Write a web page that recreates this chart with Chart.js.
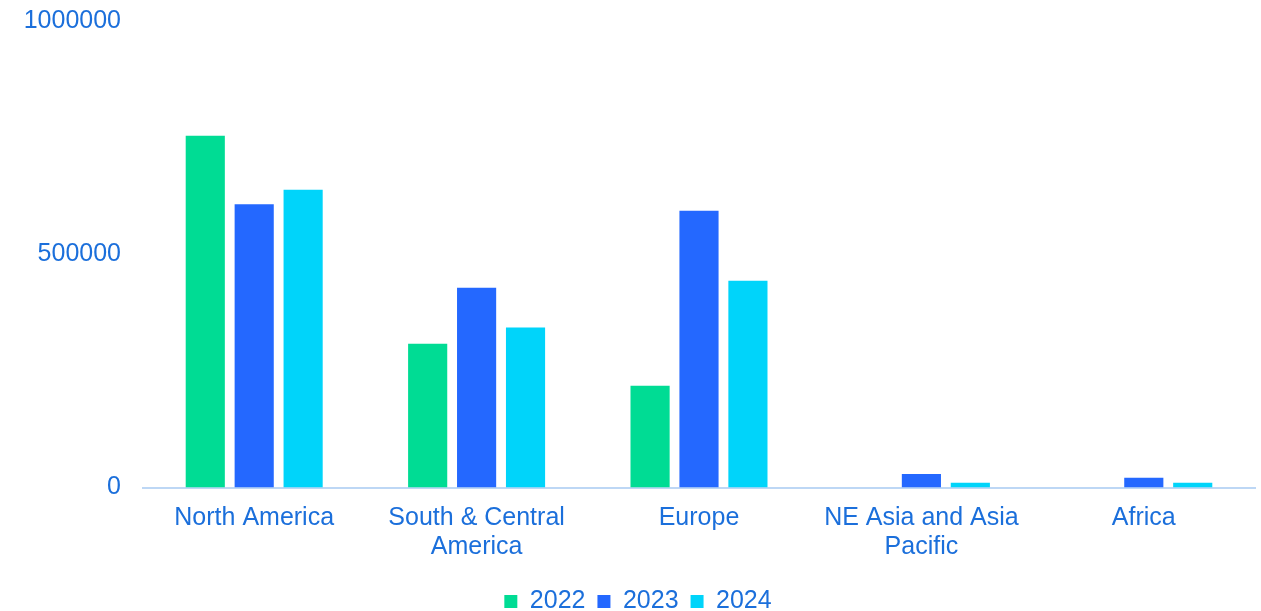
<!DOCTYPE html>
<html>
<head>
<meta charset="utf-8">
<script src="https://cdn.jsdelivr.net/npm/chart.js@4"></script>
<style>
  html, body { margin: 0; padding: 0; background: #fff; overflow: hidden; }
  #wrap { width: 1261px; height: 630px; position: relative; top: -16px; }
</style>
</head>
<body>
<div id="wrap"><canvas id="bar-chart"></canvas></div>
<script>
let regions = [["North America"], ["South & Central", "America"], ["Europe"], ["NE Asia and Asia", "Pacific"], ["Africa"]];
let years = ["2022", "2023", "2024"];
let vals_2022 = [754000, 308000, 218000, 0, 0];
let vals_2023 = [607000, 428000, 593000, 29000, 21000];
let vals_2024 = [638000, 343000, 443000, 10000, 10000];
let y_ticks = [0, 500000, 1000000];
let colours = ["#00DC94", "#2468FF", "#00D4FA"];

let txt = "#1B6FDB";
Chart.defaults.font.family = "Arial, 'Liberation Sans', sans-serif";

var ctx = document.getElementById('bar-chart');
var myChart = new Chart(ctx, {
  type: 'bar',
  data: {
    labels: regions,
    datasets: [
      { label: years[0], data: vals_2022, backgroundColor: colours[0], borderWidth: 0 },
      { label: years[1], data: vals_2023, backgroundColor: colours[1], borderWidth: 0 },
      { label: years[2], data: vals_2024, backgroundColor: colours[2], borderWidth: 0 }
    ]
  },
  options: {
    responsive: true,
    maintainAspectRatio: false,
    animation: false,
    layout: { padding: { top: -15, right: 6, left: 21, bottom: -10 } },
    datasets: { bar: { categoryPercentage: 0.66, barPercentage: 0.8 } },
    plugins: {
      legend: {
        position: 'bottom',
        labels: { color: txt, font: { size: 25 }, boxWidth: 13, boxHeight: 13, padding: 12 }
      },
      tooltip: { enabled: false }
    },
    scales: {
      x: {
        grid: { display: false, drawTicks: false },
        border: { color: "#BDD7F5", width: 2 },
        ticks: { color: txt, font: { size: 25, lineHeight: 1.15 }, maxRotation: 0, padding: 16 }
      },
      y: {
        min: 0,
        max: 1000000,
        afterBuildTicks: function (axis) { axis.ticks = y_ticks.map(v => ({ value: v })); },
        afterFit: function (axis) { axis.width = 122; },
        grid: { display: false, drawTicks: false },
        border: { display: false },
        ticks: { color: txt, font: { size: 25 }, padding: 22, callback: v => String(v) }
      }
    }
  }
});
</script>
</body>
</html>
